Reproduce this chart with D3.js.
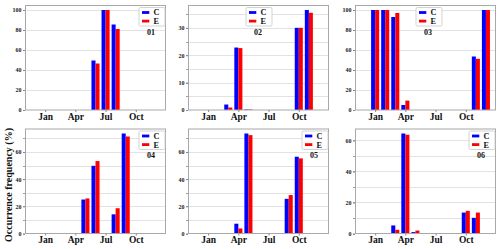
<!DOCTYPE html>
<html><head><meta charset="utf-8">
<script src="https://cdn.jsdelivr.net/npm/d3@7"></script>
<style>body{margin:0;background:#fff}svg{display:block}</style>
</head><body><svg id="c" width="500" height="249"></svg>
<script>
const months = ["Jan","Feb","Mar","Apr","May","Jun","Jul","Aug","Sep","Oct","Nov","Dec"];
const tickMonths = ["Jan","Apr","Jul","Oct"];
const panelNames = ["01","02","03","04","05","06"];
const seriesNames = ["C","E"];
const c01 = [0,0,0,0,0,49.5,100,85.5,0,0,0,0];
const e01 = [0,0,0,0,0,46.5,100,81,0,0,0,0];
const c02 = [0,0,2,22.8,0.2,0,0,0,0,30,36.5,0];
const e02 = [0,0,0.9,22.6,0.2,0,0,0,0,30,35.5,0];
const c03 = [100,100,93,5,0,0,0,0,0,0,53.5,100];
const e03 = [100,100,97,9.4,0,0,0,0,0,0,51.2,100];
const c04 = [0,0,0,0,25,49.8,0,14.1,73.6,0,0,0];
const e04 = [0,0,0,0,25.8,53.3,0,18.6,71.4,0,0,0];
const c05 = [0,0,0,7.2,73.6,0,0,0,25.5,56.5,0,0];
const e05 = [0,0,0,3.7,72.4,0,0,0,28.3,55.3,0,0];
const c06 = [0,0,5.2,64.5,0.9,0,0,0,0,13.5,10.1,0];
const e06 = [0,0,2.4,63.7,1.9,0,0,0,0,14.6,13.5,0];
const majorStep = [20,10,20,20,20,20];
const gridStep  = [20,5,20,10,10,10];
const legendLoc = ["right","center","center","right","right","right"];

const C = [c01,c02,c03,c04,c05,c06];
const E = [e01,e02,e03,e04,e05,e06];
const colors = ["#0000ff","#ff0000"];
const serif = "'Liberation Serif','Times New Roman',serif";

const svg = d3.select("#c");
const lefts = [25,188,355], tops = [5,128.5], pw = 141, ph = 105;

for (let i = 0; i < 6; i++) {
  const L = lefts[i%3], T = tops[Math.floor(i/3)];
  const ymax = d3.max(C[i].concat(E[i])) * 1.05;
  const x = d3.scaleLinear().domain([-1,13]).range([L, L+pw]);
  const y = d3.scaleLinear().domain([0, ymax]).range([T+ph, T]);
  const g = svg.append("g");

  const grid = d3.range(gridStep[i], ymax, gridStep[i]);
  g.selectAll("line.grid").data(grid).join("line")
    .attr("x1", L).attr("x2", L+pw)
    .attr("y1", d => Math.round(y(d))+0.5).attr("y2", d => Math.round(y(d))+0.5)
    .attr("stroke", "#e2e2e2").attr("stroke-width", 1);

  g.selectAll("line.mt").data(d3.range(0, ymax, gridStep[i])).join("line")
    .attr("x1", L-2).attr("x2", L)
    .attr("y1", d => Math.round(y(d))+0.5).attr("y2", d => Math.round(y(d))+0.5)
    .attr("stroke", "#888").attr("stroke-width", 0.8);

  [C[i], E[i]].forEach((vals, s) => {
    g.selectAll("rect.s"+s).data(vals.map((v,m)=>({v,m})).filter(d=>d.v>0)).join("rect")
      .attr("x", d => s===0 ? x(d.m+1-0.4) : x(d.m+1))
      .attr("width", x(0.4) - x(0))
      .attr("y", d => y(d.v))
      .attr("height", d => y(0) - y(d.v))
      .attr("fill", colors[s]);
  });

  g.append("rect").attr("x", L+0.5).attr("y", T+0.5).attr("width", pw-1).attr("height", ph-0.5)
    .attr("fill","none").attr("stroke","#a8a8a8").attr("stroke-width",1);

  const ya = g.append("g").attr("transform", `translate(${L},0)`)
    .call(d3.axisLeft(y).tickValues(d3.range(0, ymax, majorStep[i])).tickSize(2).tickPadding(1.5).tickFormat(d3.format("d")));
  ya.select(".domain").remove();
  ya.selectAll("line").attr("stroke","#888");
  ya.selectAll("text").attr("font-family", serif).attr("font-weight","bold").attr("font-size", 6).attr("fill","#222");

  const xa = g.append("g").attr("transform", `translate(0,${T+ph})`)
    .call(d3.axisBottom(x).tickValues(tickMonths.map(t => months.indexOf(t)+1)).tickSize(2).tickPadding(1)
      .tickFormat(d => months[d-1]));
  xa.select(".domain").remove();
  xa.selectAll("line").attr("stroke","#888");
  xa.selectAll("text").attr("font-family", serif).attr("font-weight","bold").attr("font-size", 9.5).attr("fill","#111");

  const lw = 26, lh = 18.5;
  const lx = legendLoc[i] === "right" ? L + pw - 1.5 - lw : L + pw/2 - lw/2 + (i===2?3:0);
  const ly = T + 2;
  const lg = g.append("g");
  lg.append("rect").attr("x", lx+0.5).attr("y", ly+0.5).attr("width", lw).attr("height", lh)
    .attr("rx", 1.5).attr("fill","#fff").attr("stroke","#c8c8c8").attr("stroke-width",0.8);
  seriesNames.forEach((nm, s) => {
    const cy = ly + 5.5 + s*8.6;
    lg.append("rect").attr("x", lx+3.5).attr("y", cy-1.4).attr("width", 7.3).attr("height", 2.8).attr("fill", colors[s]);
    lg.append("text").attr("x", lx+15).attr("y", cy+2.9).text(nm)
      .attr("font-family", serif).attr("font-weight","bold").attr("font-size", 8.2).attr("fill","#111");
  });
  g.append("text").attr("x", lx + lw/2 - 0.5).attr("y", ly + lh + 9).attr("text-anchor","middle").text(panelNames[i])
    .attr("font-family", serif).attr("font-weight","bold").attr("font-size", 8).attr("fill","#111");
}

svg.append("text").attr("transform","translate(11.5,185) rotate(-90)").attr("text-anchor","middle")
  .text("Occurrence frequency (%)")
  .attr("font-family", serif).attr("font-weight","bold").attr("font-size", 10).attr("fill","#111");
</script></body></html>
